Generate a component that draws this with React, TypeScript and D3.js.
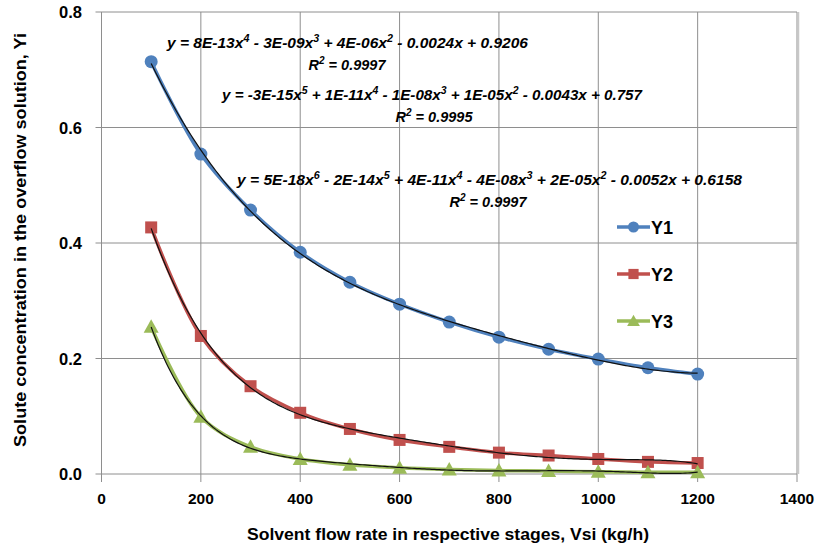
import React from "react";
import * as d3 from "d3";

const xValues = [100, 200, 300, 400, 500, 600, 700, 800, 900, 1000, 1100, 1200];
const y1Values = [0.714, 0.554, 0.457, 0.384, 0.332, 0.294, 0.263, 0.237, 0.216, 0.199, 0.184, 0.173];
const y2Values = [0.427, 0.239, 0.152, 0.106, 0.078, 0.059, 0.047, 0.037, 0.032, 0.026, 0.021, 0.019];
const y3Values = [0.255, 0.099, 0.047, 0.026, 0.016, 0.011, 0.008, 0.006, 0.005, 0.004, 0.003, 0.003];
const xTicks = [0, 200, 400, 600, 800, 1000, 1200, 1400];
const yTicks = [0.0, 0.2, 0.4, 0.6, 0.8];
const seriesNames = ["Y1", "Y2", "Y3"];
const seriesColors = ["#4F81BD", "#C0504D", "#9BBB59"];
const trendDegrees = [4, 5, 6];

type Part = { t: string; sup?: boolean };
const eq1: Part[] = [
  { t: "y = 8E-13x" }, { t: "4", sup: true }, { t: " - 3E-09x" }, { t: "3", sup: true },
  { t: " + 4E-06x" }, { t: "2", sup: true }, { t: " - 0.0024x + 0.9206" },
];
const eq2: Part[] = [
  { t: "y = -3E-15x" }, { t: "5", sup: true }, { t: " + 1E-11x" }, { t: "4", sup: true },
  { t: " - 1E-08x" }, { t: "3", sup: true }, { t: " + 1E-05x" }, { t: "2", sup: true },
  { t: " - 0.0043x + 0.757" },
];
const eq3: Part[] = [
  { t: "y = 5E-18x" }, { t: "6", sup: true }, { t: " - 2E-14x" }, { t: "5", sup: true },
  { t: " + 4E-11x" }, { t: "4", sup: true }, { t: " - 4E-08x" }, { t: "3", sup: true },
  { t: " + 2E-05x" }, { t: "2", sup: true }, { t: " - 0.0052x + 0.6158" },
];
const r2Labels = ["0.9997", "0.9995", "0.9997"];

function polyFit(xs: number[], ys: number[], deg: number) {
  const c = 650, s = 550;
  const n = deg + 1;
  const A: number[][] = Array.from({ length: n }, () => new Array(n + 1).fill(0));
  xs.forEach((x, k) => {
    const t = (x - c) / s;
    const pw: number[] = [];
    for (let i = 0; i < 2 * n; i++) pw.push(Math.pow(t, i));
    for (let i = 0; i < n; i++) {
      for (let j = 0; j < n; j++) A[i][j] += pw[i + j];
      A[i][n] += ys[k] * pw[i];
    }
  });
  for (let i = 0; i < n; i++) {
    let p = i;
    for (let r = i + 1; r < n; r++) if (Math.abs(A[r][i]) > Math.abs(A[p][i])) p = r;
    [A[i], A[p]] = [A[p], A[i]];
    for (let r = 0; r < n; r++) {
      if (r === i) continue;
      const f = A[r][i] / A[i][i];
      for (let k = i; k <= n; k++) A[r][k] -= f * A[i][k];
    }
  }
  const coef = A.map((row, i) => row[n] / row[i]);
  return (x: number) => {
    const t = (x - c) / s;
    return coef.reduce((acc, a, i) => acc + a * Math.pow(t, i), 0);
  };
}

const W = 818, H = 550;
const left = 101.5, right = 797, top = 12, bottom = 474;

export default function App() {
  const x = d3.scaleLinear().domain([0, 1400]).range([left, right]);
  const y = d3.scaleLinear().domain([0, 0.8]).range([bottom, top]);
  const all = [y1Values, y2Values, y3Values];
  const line = d3.line<number>().x((_, i) => x(xValues[i])).y((d) => y(d)).curve(d3.curveCatmullRom.alpha(0.5));
  const grid = "#8E8E8E";
  const font = "'Liberation Sans', Arial, sans-serif";
  const eqSize = 14.5, supSize = 10;

  const renderEq = (parts: Part[], px: number, py: number, len: number) => (
    <text x={px} y={py} fontFamily={font} fontWeight="bold" fontStyle="italic" fontSize={eqSize} fill="#000"
      textLength={len} lengthAdjust="spacingAndGlyphs">
      {parts.map((p, i) =>
        p.sup ? (
          <tspan key={i} fontSize={supSize} dy={-6}>{p.t}</tspan>
        ) : (
          <tspan key={i} dy={i > 0 && parts[i - 1].sup ? 6 : 0}>{p.t}</tspan>
        )
      )}
    </text>
  );

  const r2 = (label: string, cx: number, cy: number) => (
    <text x={cx} y={cy} textAnchor="middle" fontFamily={font} fontWeight="bold" fontStyle="italic" fontSize={eqSize}>
      R<tspan fontSize={supSize} dy={-6}>2</tspan><tspan dy={6}> = {label}</tspan>
    </text>
  );

  const marker = (si: number, cx: number, cy: number, key: string, scale = 1) => {
    const col = seriesColors[si];
    if (si === 0) return <circle key={key} cx={cx} cy={cy} r={6.5 * scale} fill={col} />;
    if (si === 1) return <rect key={key} x={cx - 6 * scale} y={cy - 6 * scale} width={12 * scale} height={12 * scale} fill={col} />;
    const s = 7.5 * scale;
    return <path key={key} d={`M${cx},${cy - s}L${cx + s},${cy + s * 0.8}L${cx - s},${cy + s * 0.8}Z`} fill={col} />;
  };

  return (
    <div style={{ position: "absolute", left: 0, top: 0 }}>
      <svg width={W} height={H} style={{ display: "block", background: "#fff" }}>
        {/* gridlines */}
        {xTicks.map((t) => (
          <line key={"gx" + t} x1={x(t)} x2={x(t)} y1={top} y2={bottom + 8} stroke={grid} strokeWidth={1} />
        ))}
        {yTicks.map((t) => (
          <line key={"gy" + t} x1={left - 6} x2={right} y1={y(t)} y2={y(t)} stroke={grid} strokeWidth={1} />
        ))}
        <line x1={right + 1.5} x2={right + 1.5} y1={top} y2={bottom} stroke="#C8C8C8" strokeWidth={1.5} />
        {/* tick labels */}
        {yTicks.map((t) => (
          <text key={"ty" + t} x={82} y={y(t) + 6} textAnchor="end" fontFamily={font} fontWeight="bold" fontSize={16.5} fill="#000">
            {d3.format(".1f")(t)}
          </text>
        ))}
        {xTicks.map((t) => (
          <text key={"tx" + t} x={x(t)} y={504} textAnchor="middle" fontFamily={font} fontWeight="bold" fontSize={15.5} fill="#000">
            {t}
          </text>
        ))}
        <text x={448} y={540} textAnchor="middle" fontFamily={font} fontWeight="bold" fontSize={16} fill="#000"
          textLength={402} lengthAdjust="spacingAndGlyphs">
          Solvent flow rate in respective stages, Vsi (kg/h)
        </text>
        <text transform="translate(26,240) rotate(-90)" textAnchor="middle" fontFamily={font} fontWeight="bold" fontSize={16} fill="#000"
          textLength={414} lengthAdjust="spacingAndGlyphs">
          Solute concentration in the overflow solution, Yi
        </text>
        {/* series lines */}
        {all.map((vals, si) => (
          <path key={"l" + si} d={line(vals) || ""} fill="none" stroke={seriesColors[si]} strokeWidth={3.5} strokeLinejoin="round" />
        ))}
        {all.map((vals, si) => vals.map((v, i) => marker(si, x(xValues[i]), y(v), `m${si}-${i}`)))}
        {/* trendlines */}
        {all.map((vals, si) => {
          const f = polyFit(xValues, vals, trendDegrees[si]);
          const pts = d3.range(100, 1200.01, 5);
          const tl = d3.line<number>().x((d) => x(d)).y((d) => y(f(d)));
          return <path key={"t" + si} d={tl(pts) || ""} fill="none" stroke="#111" strokeWidth={1.2} />;
        })}
        {/* equations */}
        {renderEq(eq1, 167, 48, 361)}
        {r2(r2Labels[0], 347, 70)}
        {renderEq(eq2, 222, 100, 420)}
        {r2(r2Labels[1], 434, 122)}
        {renderEq(eq3, 237, 185, 505)}
        {r2(r2Labels[2], 488, 207)}
        {/* legend */}
        {seriesNames.map((nm, si) => {
          const ly = 227 + si * 47;
          return (
            <g key={"lg" + si}>
              <line x1={617} x2={650} y1={ly} y2={ly} stroke={seriesColors[si]} strokeWidth={3.5} />
              {marker(si, 633.5, ly, "lm" + si, 0.85)}
              <text x={651} y={ly + 7} fontFamily={font} fontWeight="bold" fontSize={18} fill="#000">{nm}</text>
            </g>
          );
        })}
      </svg>
    </div>
  );
}
